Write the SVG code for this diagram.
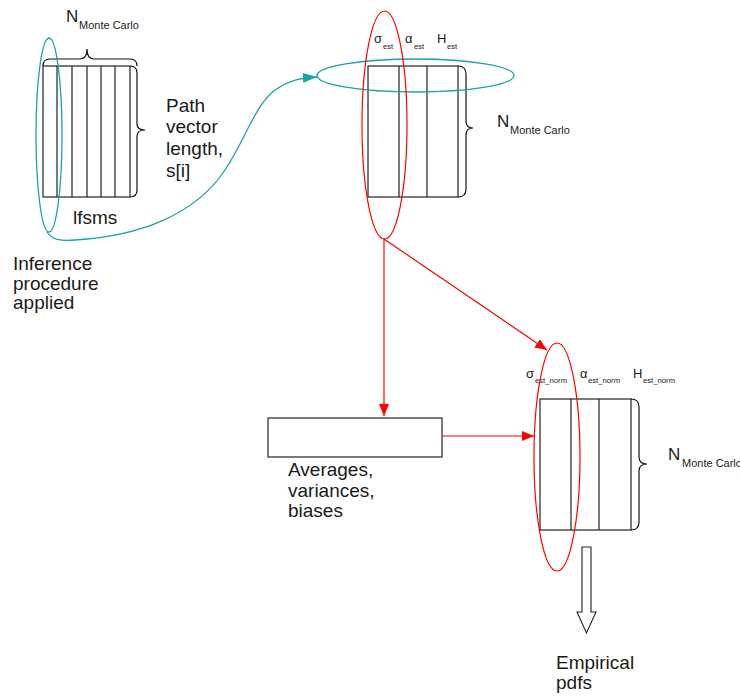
<svg xmlns="http://www.w3.org/2000/svg" width="740" height="696" viewBox="0 0 740 696">
<defs>
<style>
.t{font-family:"Liberation Sans",Arial,sans-serif;fill:#1a1a1a}
.big{font-size:19px}
.n{font-size:17px}
.sub{font-size:11px}
.lab{font-size:13px}
.s8{font-size:7.7px}
.mx{fill:#fff;stroke:#222;stroke-width:1.2}
.ln{stroke:#222;stroke-width:1.2;fill:none}
.br{fill:none;stroke:#111;stroke-width:1.2}
.red{fill:none;stroke:#ff0000;stroke-width:1.2}
.cy{fill:none;stroke:#1aa3a6;stroke-width:1.3}
</style>
<marker id="ar" viewBox="0 0 12 10" refX="12" refY="5" markerWidth="12" markerHeight="10" markerUnits="userSpaceOnUse" orient="auto">
<path d="M0 0L12 5L0 10z" fill="#ff0000"/>
</marker>
<marker id="ac" viewBox="0 0 14 10" refX="14" refY="5" markerWidth="14" markerHeight="10" markerUnits="userSpaceOnUse" orient="auto">
<path d="M0 0L14 5L0 10z" fill="#1aa3a6"/>
</marker>
</defs>
<rect width="740" height="696" fill="#fff"/>

<g id="lfsms-matrix">
<rect class="mx" x="43" y="66" width="87" height="131"/>
<path class="ln" d="M57 66V197M72 66V197M87 66V197M101 66V197M115 66V197"/>
<path class="br" d="M43 66Q43 59 50 59L80 59Q87 59 87 49Q87 59 94 59L130 59Q137 59 137 66"/>
<path class="br" d="M130 66Q137 66 137 73L137 124Q137 130 145 130Q137 130 137 136L137 190Q137 197 130 197"/>
<text class="t n" x="66" y="22">N</text>
<text class="t sub" x="79" y="29">Monte Carlo</text>
<text class="t big" x="166" y="112">Path</text>
<text class="t big" x="166" y="133">vector</text>
<text class="t big" x="166" y="155">length,</text>
<text class="t big" x="166" y="177">s[i]</text>
<text class="t big" x="73" y="224">lfsms</text>
</g>

<g id="inference-selection">
<ellipse class="cy" cx="49" cy="135" rx="13" ry="97"/>
<text class="t big" x="13" y="270">Inference</text>
<text class="t big" x="13" y="290">procedure</text>
<text class="t big" x="13" y="309">applied</text>
</g>

<g id="est-matrix">
<rect class="mx" x="368" y="66" width="90" height="131"/>
<path class="ln" d="M399 66V197M427 66V197"/>
<path class="br" d="M458 66Q466 66 466 74L466 121Q466 128 473 128Q466 128 466 135L466 189Q466 197 458 197"/>
<text class="t lab" x="374" y="43">σ</text>
<text class="t s8" x="383" y="49">est</text>
<text class="t lab" x="405" y="43">α</text>
<text class="t s8" x="414" y="49">est</text>
<text class="t lab" x="437" y="43">H</text>
<text class="t s8" x="447" y="49">est</text>
<text class="t n" x="497" y="127">N</text>
<text class="t sub" x="510" y="134">Monte Carlo</text>
<ellipse class="cy" cx="415.5" cy="75.5" rx="98.5" ry="16.5"/>
<ellipse class="red" cx="384.5" cy="125" rx="22.5" ry="114"/>
</g>

<g id="stats-box">
<rect class="mx" x="268" y="418" width="174" height="39"/>
<text class="t big" x="288" y="476">Averages,</text>
<text class="t big" x="288" y="497">variances,</text>
<text class="t big" x="288" y="517">biases</text>
</g>

<g id="norm-matrix">
<rect class="mx" x="540" y="399" width="91" height="131"/>
<path class="ln" d="M571 399V530M599 399V530"/>
<path class="br" d="M631 399Q639 399 639 407L639 457Q639 464 647 464Q639 464 639 471L639 522Q639 530 631 530"/>
<text class="t lab" x="526" y="378">σ</text>
<text class="t s8" x="535" y="383">est_norm</text>
<text class="t lab" x="580" y="378">α</text>
<text class="t s8" x="588" y="383">est_norm</text>
<text class="t lab" x="633" y="378">H</text>
<text class="t s8" x="643" y="383">est_norm</text>
<text class="t n" x="668" y="460">N</text>
<text class="t sub" x="682" y="467">Monte Carlo</text>
<ellipse class="red" cx="557" cy="457" rx="23" ry="114"/>
</g>

<g id="empirical-pdfs">
<path d="M582 547H591V612H596L586.5 633L577 612H582Z" fill="#fff" stroke="#222" stroke-width="1.1"/>
<text class="t big" x="556" y="669">Empirical</text>
<text class="t big" x="556" y="689">pdfs</text>
</g>

<g id="connectors">
<path class="cy" d="M47 232C52 240 60 241 75 240C140 236 195 215 225 170C245 140 255 105 275 90C290 80 300 78 317 77" marker-end="url(#ac)"/>
<path class="red" d="M384 239V416" marker-end="url(#ar)"/>
<path class="red" d="M384 239L547 350" marker-end="url(#ar)"/>
<path class="red" d="M442 436H534" marker-end="url(#ar)"/>
</g>
</svg>
